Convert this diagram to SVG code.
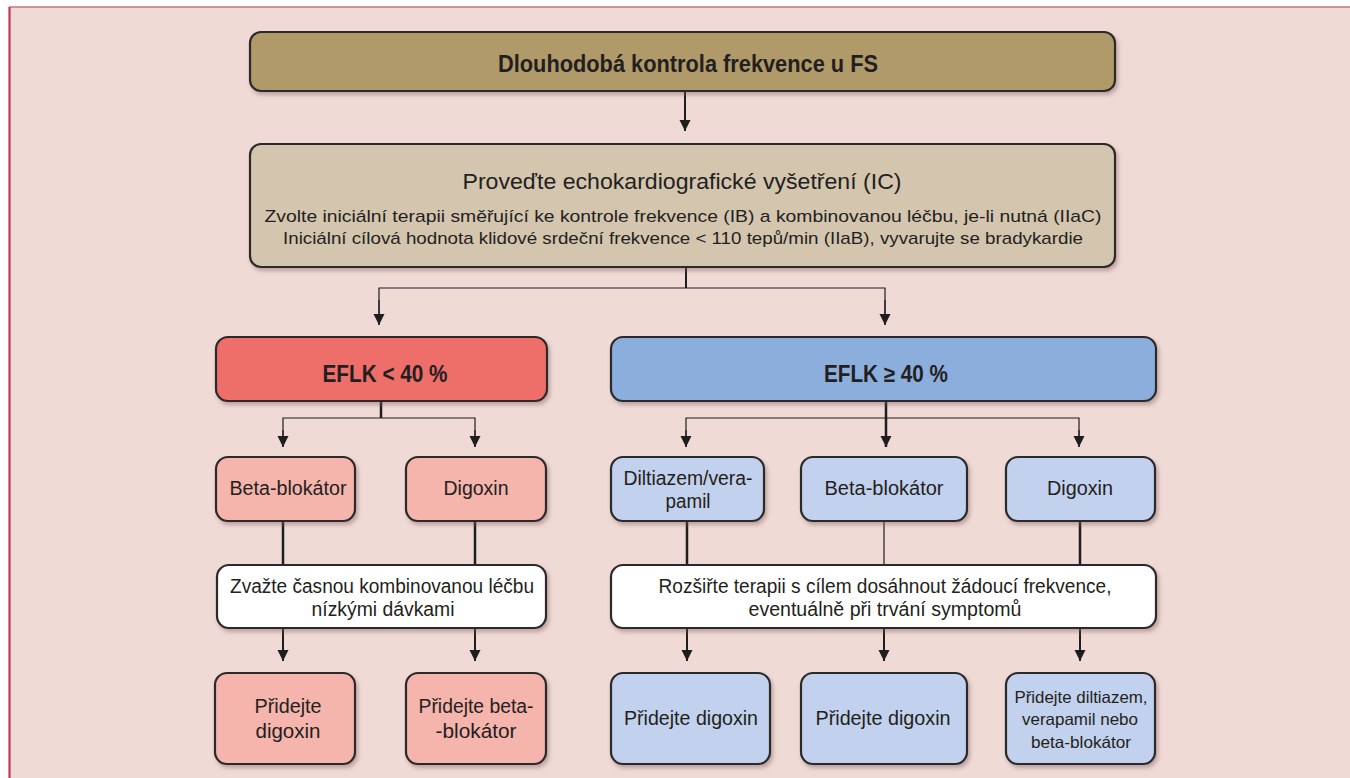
<svg xmlns="http://www.w3.org/2000/svg" width="1350" height="778" viewBox="0 0 1350 778">
<defs>
<filter id="sh" x="-10%" y="-10%" width="125%" height="140%">
<feDropShadow dx="2" dy="3" stdDeviation="2" flood-color="#7a5a5a" flood-opacity="0.45"/>
</filter>
<marker id="arr" markerUnits="userSpaceOnUse" markerWidth="12" markerHeight="12" refX="11" refY="6" orient="auto">
<path d="M0,0.5 L11,6 L0,11.5 z" fill="#1e1e1e"/>
</marker>
</defs>
<style>
.box{stroke:#2a2a2a;stroke-width:2.2;filter:url(#sh)}
.t{font-family:"Liberation Sans",Arial,sans-serif;fill:#231f20;text-anchor:middle}
.b{font-weight:bold}
.c{fill:none;stroke:#1e1e1e}
.thin{stroke-width:1.2}
.mid{stroke-width:2}
.thick{stroke-width:2.5}
</style>
<rect x="0" y="0" width="1350" height="778" fill="#ffffff"/>
<rect x="9" y="7" width="1345" height="775" fill="#f0dad6"/>
<line x1="9" y1="7" x2="1350" y2="7" stroke="#c8707c" stroke-width="1.5"/>
<line x1="9.5" y1="7" x2="9.5" y2="778" stroke="#c4365c" stroke-width="2.2"/>

<g id="connectors">
<line class="c mid" x1="685" y1="91" x2="685" y2="131" marker-end="url(#arr)"/>
<line class="c mid" x1="686" y1="267" x2="686" y2="288"/>
<polyline class="c thin" points="379,325 379,288 885,288 885,325"/>
<line class="c thin" x1="379" y1="300" x2="379" y2="325" marker-end="url(#arr)"/>
<line class="c thin" x1="885" y1="300" x2="885" y2="325" marker-end="url(#arr)"/>

<line class="c thick" x1="381" y1="401" x2="381" y2="418"/>
<polyline class="c thin" points="283,447 283,418 475,418 475,447"/>
<line class="c thin" x1="283" y1="430" x2="283" y2="447" marker-end="url(#arr)"/>
<line class="c thin" x1="475" y1="430" x2="475" y2="447" marker-end="url(#arr)"/>

<line class="c thick" x1="886" y1="401" x2="886" y2="447" marker-end="url(#arr)"/>
<polyline class="c thin" points="686,447 686,418 1079,418 1079,447"/>
<line class="c thin" x1="686" y1="430" x2="686" y2="447" marker-end="url(#arr)"/>
<line class="c thin" x1="1079" y1="430" x2="1079" y2="447" marker-end="url(#arr)"/>

<line class="c thick" x1="283" y1="521" x2="283" y2="565"/>
<line class="c thick" x1="475" y1="521" x2="475" y2="565"/>
<line class="c thick" x1="687" y1="521" x2="687" y2="565"/>
<line class="c thin" x1="884" y1="521" x2="884" y2="565"/>
<line class="c thick" x1="1080" y1="521" x2="1080" y2="565"/>

<line class="c mid" x1="283" y1="628" x2="283" y2="661" marker-end="url(#arr)"/>
<line class="c mid" x1="475" y1="628" x2="475" y2="661" marker-end="url(#arr)"/>
<line class="c mid" x1="687" y1="628" x2="687" y2="661" marker-end="url(#arr)"/>
<line class="c mid" x1="884" y1="628" x2="884" y2="661" marker-end="url(#arr)"/>
<line class="c mid" x1="1080" y1="628" x2="1080" y2="661" marker-end="url(#arr)"/>
</g>

<g id="n-title">
<rect class="box" x="250" y="32" width="865" height="59" rx="11" fill="#b09a69"/>
<text class="t b" x="688" y="72" font-size="23" textLength="380" lengthAdjust="spacingAndGlyphs">Dlouhodobá kontrola frekvence u FS</text>
</g>

<g id="n-echo">
<rect class="box" x="250" y="144" width="865" height="123" rx="11" fill="#d3c5ae"/>
<text class="t" x="682" y="189" font-size="21.5" textLength="439" lengthAdjust="spacingAndGlyphs">Proveďte echokardiografické vyšetření (IC)</text>
<text class="t" x="683" y="222" font-size="17" textLength="837" lengthAdjust="spacingAndGlyphs">Zvolte iniciální terapii směřující ke kontrole frekvence (IB) a kombinovanou léčbu, je-li nutná (IIaC)</text>
<text class="t" x="683" y="244" font-size="17" textLength="800" lengthAdjust="spacingAndGlyphs">Iniciální cílová hodnota klidové srdeční frekvence &lt; 110 tepů/min (IIaB), vyvarujte se bradykardie</text>
</g>

<g id="n-eflk-lt">
<rect class="box" x="216" y="337" width="331" height="64" rx="12" fill="#ee6e6b"/>
<text class="t b" x="385" y="382" font-size="23" textLength="125" lengthAdjust="spacingAndGlyphs">EFLK &lt; 40 %</text>
</g>

<g id="n-eflk-ge">
<rect class="box" x="611" y="337" width="545" height="64" rx="12" fill="#8caedd"/>
<text class="t b" x="886" y="382" font-size="23" textLength="124" lengthAdjust="spacingAndGlyphs">EFLK ≥ 40 %</text>
</g>

<g id="n-bb-r">
<rect class="box" x="216" y="457" width="139" height="64" rx="12" fill="#f5b4ac"/>
<text class="t" x="288" y="495" font-size="20" textLength="117" lengthAdjust="spacingAndGlyphs">Beta-blokátor</text>
</g>

<g id="n-dig-r">
<rect class="box" x="406" y="457" width="140" height="64" rx="12" fill="#f5b4ac"/>
<text class="t" x="476" y="495" font-size="20" textLength="65" lengthAdjust="spacingAndGlyphs">Digoxin</text>
</g>

<g id="n-dv-b">
<rect class="box" x="611" y="457" width="153" height="64" rx="12" fill="#c2d1ed"/>
<text class="t" x="688" y="485" font-size="20" textLength="129" lengthAdjust="spacingAndGlyphs">Diltiazem/vera-</text>
<text class="t" x="688" y="508" font-size="20" textLength="45" lengthAdjust="spacingAndGlyphs">pamil</text>
</g>

<g id="n-bb-b">
<rect class="box" x="801" y="457" width="166" height="64" rx="12" fill="#c2d1ed"/>
<text class="t" x="884" y="495" font-size="20" textLength="119" lengthAdjust="spacingAndGlyphs">Beta-blokátor</text>
</g>

<g id="n-dig-b">
<rect class="box" x="1006" y="457" width="149" height="64" rx="12" fill="#c2d1ed"/>
<text class="t" x="1080" y="495" font-size="20" textLength="66" lengthAdjust="spacingAndGlyphs">Digoxin</text>
</g>

<g id="n-comb">
<rect class="box" x="217" y="565" width="329" height="63" rx="12" fill="#ffffff"/>
<text class="t" x="382" y="593" font-size="20" textLength="304" lengthAdjust="spacingAndGlyphs">Zvažte časnou kombinovanou léčbu</text>
<text class="t" x="383" y="616" font-size="20" textLength="143" lengthAdjust="spacingAndGlyphs">nízkými dávkami</text>
</g>

<g id="n-ext">
<rect class="box" x="611" y="565" width="545" height="63" rx="12" fill="#ffffff"/>
<text class="t" x="885" y="593" font-size="20" textLength="453" lengthAdjust="spacingAndGlyphs">Rozšiřte terapii s cílem dosáhnout žádoucí frekvence,</text>
<text class="t" x="885" y="616" font-size="20" textLength="273" lengthAdjust="spacingAndGlyphs">eventuálně při trvání symptomů</text>
</g>

<g id="n-pd-r">
<rect class="box" x="215" y="673" width="140" height="91" rx="12" fill="#f5b4ac"/>
<text class="t" x="288" y="713" font-size="20" textLength="67" lengthAdjust="spacingAndGlyphs">Přidejte</text>
<text class="t" x="288" y="738" font-size="20" textLength="65" lengthAdjust="spacingAndGlyphs">digoxin</text>
</g>

<g id="n-pb-r">
<rect class="box" x="406" y="673" width="140" height="91" rx="12" fill="#f5b4ac"/>
<text class="t" x="476" y="713" font-size="20" textLength="115" lengthAdjust="spacingAndGlyphs">Přidejte beta-</text>
<text class="t" x="476" y="738" font-size="20" textLength="81" lengthAdjust="spacingAndGlyphs">-blokátor</text>
</g>

<g id="n-pd-b1">
<rect class="box" x="611" y="673" width="159" height="91" rx="12" fill="#c2d1ed"/>
<text class="t" x="691" y="725" font-size="20" textLength="134" lengthAdjust="spacingAndGlyphs">Přidejte digoxin</text>
</g>

<g id="n-pd-b2">
<rect class="box" x="801" y="673" width="166" height="91" rx="12" fill="#c2d1ed"/>
<text class="t" x="883" y="725" font-size="20" textLength="135" lengthAdjust="spacingAndGlyphs">Přidejte digoxin</text>
</g>

<g id="n-pdv-b">
<rect class="box" x="1006" y="673" width="149" height="91" rx="12" fill="#c2d1ed"/>
<text class="t" x="1081" y="703" font-size="16.5" textLength="133" lengthAdjust="spacingAndGlyphs">Přidejte diltiazem,</text>
<text class="t" x="1080" y="725" font-size="16.5" textLength="116" lengthAdjust="spacingAndGlyphs">verapamil nebo</text>
<text class="t" x="1081" y="748" font-size="16.5" textLength="100" lengthAdjust="spacingAndGlyphs">beta-blokátor</text>
</g>
</svg>
